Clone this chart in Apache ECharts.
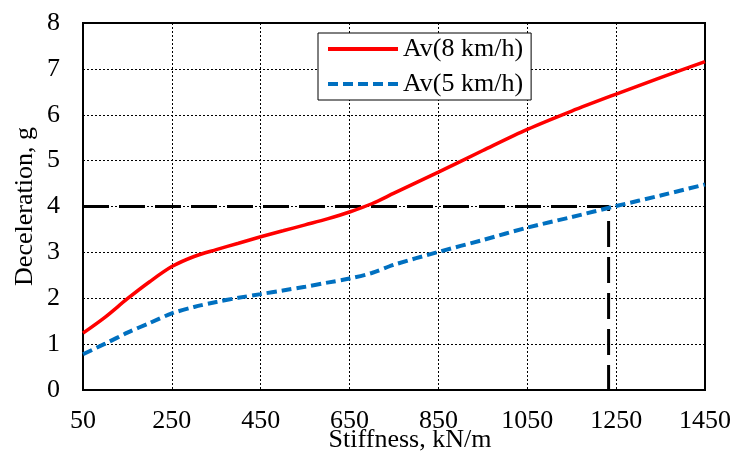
<!DOCTYPE html>
<html>
<head>
<meta charset="utf-8">
<script src="https://cdn.jsdelivr.net/npm/echarts@6/dist/echarts.min.js"></script>
<style>html,body{margin:0;padding:0;background:#fff;}#c{width:733px;height:454px;}</style>
</head>
<body>
<div id="c"></div>
<script>
const stiffness = [50, 100, 150, 200, 250, 300, 350, 400, 450, 500, 550, 600, 650, 700, 750, 850, 950, 1050, 1150, 1250, 1350, 1450];
const av8 = [1.24, 1.59, 1.99, 2.36, 2.69, 2.91, 3.06, 3.2, 3.34, 3.47, 3.6, 3.73, 3.88, 4.06, 4.29, 4.75, 5.22, 5.68, 6.08, 6.45, 6.81, 7.16];
const av5 = [0.78, 1.01, 1.25, 1.46, 1.67, 1.81, 1.92, 2.01, 2.09, 2.17, 2.25, 2.34, 2.43, 2.55, 2.73, 3.01, 3.27, 3.54, 3.77, 4.01, 4.24, 4.48];
const refX = [50, 1233, 1233];
const refY = [4, 4, 0];
const xTicks = [50, 250, 450, 650, 850, 1050, 1250, 1450];
const seriesNames = ['Av(8 km/h)', 'Av(5 km/h)'];

const font = "'Liberation Serif', 'Times New Roman', serif";
const fs = 26;
const chart = echarts.init(document.getElementById('c'));
chart.setOption({
  animation: false,
  backgroundColor: '#fff',
  grid: { left: 83, right: 28, top: 23, bottom: 64, show: true, borderColor: '#000', borderWidth: 2,
    containLabel: false, outerBoundsMode: 'none' },
  legend: {
    data: [
      { name: seriesNames[0], icon: 'rect' },
      { name: seriesNames[1], icon: 'path://M0,0h10v4h-10z M15,0h10v4h-10z M30,0h10v4h-10z M45,0h10v4h-10z M60,0h10v4h-10z' }
    ],
    orient: 'vertical',
    left: 318, top: 33,
    backgroundColor: '#fff',
    borderColor: '#000', borderWidth: 1,
    padding: [3, 8, 3, 10],
    itemWidth: 70, itemHeight: 4, itemGap: 9,
    textStyle: { fontFamily: font, fontSize: fs, color: '#000' }
  },
  xAxis: {
    type: 'value', min: 50, max: 1450, interval: 200,
    name: 'Stiffness, kN/m', nameLocation: 'middle', nameGap: 37, nameMoveOverlap: false,
    nameTextStyle: { fontFamily: font, fontSize: fs, color: '#000', padding: [0, 0, 0, 32] },
    axisLine: { lineStyle: { color: '#000', width: 2 } },
    axisTick: { show: false },
    axisLabel: { fontFamily: font, fontSize: fs, color: '#000', margin: 18,
      customValues: xTicks, formatter: v => String(v) },
    splitLine: { lineStyle: { color: '#000', type: [2, 2], width: 1 } }
  },
  yAxis: {
    type: 'value', min: 0, max: 8, interval: 1,
    name: 'Deceleration, g', nameLocation: 'middle', nameGap: 45, nameMoveOverlap: false,
    nameTextStyle: { fontFamily: font, fontSize: fs, color: '#000' },
    axisLine: { show: true, lineStyle: { color: '#000', width: 2 } },
    axisTick: { show: false },
    axisLabel: { fontFamily: font, fontSize: fs, color: '#000', margin: 23, formatter: v => String(v) },
    splitLine: { lineStyle: { color: '#000', type: [2, 2], width: 1 } }
  },
  series: [
    {
      name: seriesNames[0], type: 'line', smooth: 0.3, symbol: 'none',
      data: stiffness.map((x, i) => [x, av8[i]]),
      lineStyle: { color: '#ff0000', width: 3.5 }, itemStyle: { color: '#ff0000' }, z: 3
    },
    {
      name: seriesNames[1], type: 'line', smooth: 0.3, symbol: 'none',
      data: stiffness.map((x, i) => [x, av5[i]]),
      lineStyle: { color: '#0070c0', width: 4, type: [10, 5] }, itemStyle: { color: '#0070c0' }, z: 3
    },
    {
      name: 'ref', type: 'line', symbol: 'none',
      data: refX.map((x, i) => [x, refY[i]]),
      lineStyle: { color: '#000', width: 3, type: [26, 10] }, z: 2
    }
  ]
});
</script>
</body>
</html>
